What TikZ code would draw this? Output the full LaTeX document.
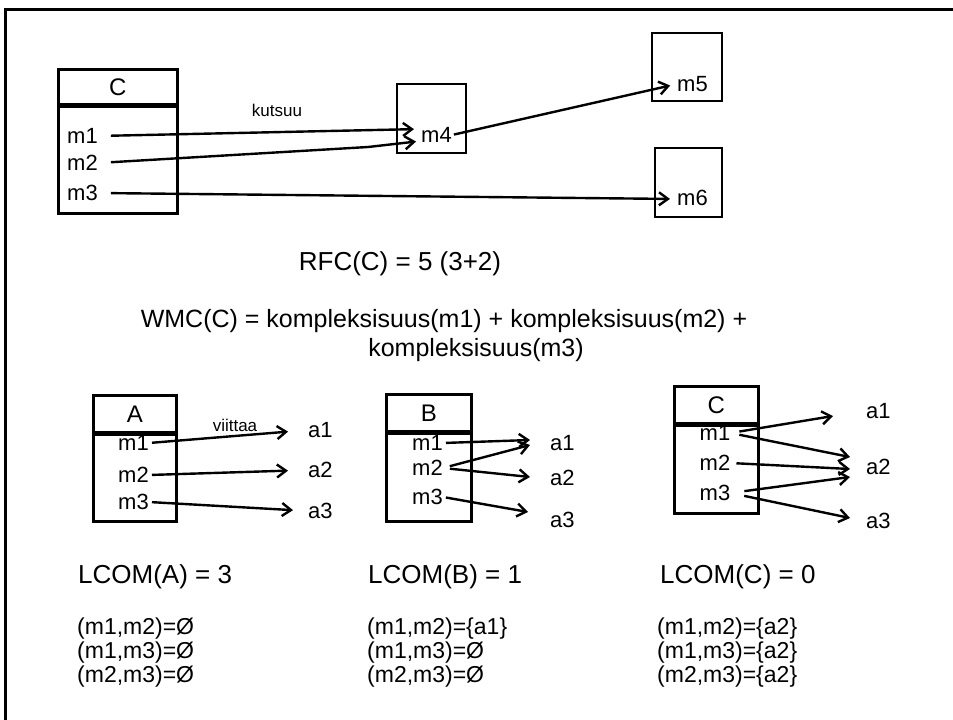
\documentclass[tikz,border=0pt]{standalone}
\usepackage{fontspec}
\setmainfont{Liberation Sans}
\usetikzlibrary{arrows.meta}

\begin{document}
\begin{tikzpicture}[x=1pt,y=-1pt,
  classbox/.style={draw,line width=2.6pt,inner sep=0pt,anchor=north west},
  headfont/.style={font=\fontsize{24}{24}\selectfont},
  sep/.style={line width=4.2pt},
  meth/.style={font=\fontsize{22}{22}\selectfont,inner sep=0pt},
  small/.style={font=\fontsize{17}{17}\selectfont},
  big/.style={font=\fontsize{26}{30}\selectfont},
  sets/.style={font=\fontsize{23}{24}\selectfont,align=left,anchor=west,inner sep=0pt},
  calls/.style={line width=2.4pt,-{Straight Barb[length=9pt,width=13pt]}}]
\useasboundingbox (0,0) rectangle (953,720);
\draw[line width=3pt] (5,720) -- (5,9) -- (953,9);

% class C and the methods it calls
\node[classbox,minimum width=119pt,minimum height=109pt] (kBody) at (57,103) {};
\node[classbox,minimum width=119pt,minimum height=35pt,headfont] (kHead) at (57,68) {C};
\draw[sep] (kHead.south west) -- (kHead.south east);
\node[meth,anchor=west] (k1) at (67,136) {m1};
\node[meth,anchor=west] (k2) at (67,163) {m2};
\node[meth,anchor=west] (k3) at (67,193) {m3};
\node[draw,line width=2.6pt,minimum width=69pt,minimum height=69pt] (m4box) at (431.5,118.5) {};
\node[draw,line width=2.6pt,minimum width=70pt,minimum height=68pt] (m5box) at (687,67) {};
\node[draw,line width=2.6pt,minimum width=67pt,minimum height=69pt] (m6box) at (688.5,182.5) {};
\node[meth,anchor=west] (m4) at (421,135) {m4};
\node[meth,anchor=west] (m5) at (677,84) {m5};
\node[meth,anchor=west] (m6) at (677,198) {m6};
\node[small] (kutsuu) at (277,110) {kutsuu};
\draw[calls,shorten <=13pt,shorten >=7pt] (k1.east) -- ([yshift=6pt]m4.west);
\draw[calls,shorten <=13pt,shorten >=5pt] (k2.east) -- (368,147) -- ([yshift=-6pt]m4.west);
\draw[calls,shorten <=13pt,shorten >=7pt] (k3.east) -- ([yshift=-1pt]m6.west);
\draw[calls,shorten <=2pt,shorten >=7pt] (m4.east) -- (m5.west);

\node[big] (rfc) at (400,264) {RFC(C) = 5 (3+2)};
\node[font=\fontsize{25}{30}\selectfont] (wmc1) at (444,321) {WMC(C) = kompleksisuus(m1) + kompleksisuus(m2) +};
\node[font=\fontsize{25}{30}\selectfont] (wmc2) at (476,350) {kompleksisuus(m3)};

% class A
\node[classbox,minimum width=83pt,minimum height=89pt] (aBody) at (92,431) {};
\node[classbox,minimum width=83pt,minimum height=37pt,headfont] (aHead) at (92,394) {A};
\draw[sep] (aHead.south west) -- (aHead.south east);
\node[meth] (am1) at (133.5,443) {m1};
\node[meth] (am2) at (133.5,475) {m2};
\node[meth] (am3) at (133.5,502) {m3};
\node[meth,anchor=west] (aa1) at (308,430) {a1};
\node[meth,anchor=west] (aa2) at (308,470) {a2};
\node[meth,anchor=west] (aa3) at (308,511) {a3};
\node[small] (viittaa) at (235,425) {viittaa};
\draw[calls,shorten <=3pt,shorten >=20pt] (am1.east) -- (aa1.west);
\draw[calls,shorten <=3pt,shorten >=20pt] (am2.east) -- (aa2.west);
\draw[calls,shorten <=3pt,shorten >=15pt] (am3.east) -- (aa3.west);

% class B
\node[classbox,minimum width=85pt,minimum height=90pt] (bBody) at (385,430) {};
\node[classbox,minimum width=85pt,minimum height=37pt,headfont] (bHead) at (385,393) {B};
\draw[sep] (bHead.south west) -- (bHead.south east);
\node[meth] (bm1) at (427.5,443) {m1};
\node[meth] (bm2) at (427.5,468) {m2};
\node[meth] (bm3) at (427.5,497) {m3};
\node[meth,anchor=west] (ba1) at (550,443) {a1};
\node[meth,anchor=west] (ba2) at (550,478) {a2};
\node[meth,anchor=west] (ba3) at (550,520) {a3};
\draw[calls,shorten <=3pt] (bm1.east) -- ([xshift=-20pt,yshift=3pt]ba1.west);
\draw[calls,shorten <=7pt] (bm2.east) -- ([xshift=-20pt,yshift=-2pt]ba1.west);
\draw[calls,shorten <=7pt] (bm2.east) -- ([xshift=-20pt,yshift=1pt]ba2.west);
\draw[calls,shorten <=3pt] (bm3.east) -- ([xshift=-22pt,yshift=8pt]ba3.west);

% class C, attributes
\node[classbox,minimum width=84pt,minimum height=90pt] (cBody) at (673,422) {};
\node[classbox,minimum width=84pt,minimum height=37pt,headfont] (cHead) at (673,385) {C};
\draw[sep] (cHead.south west) -- (cHead.south east);
\node[meth] (cm1) at (715,433) {m1};
\node[meth] (cm2) at (715,463) {m2};
\node[meth] (cm3) at (715,493) {m3};
\node[meth,anchor=west] (ca1) at (866,411) {a1};
\node[meth,anchor=west] (ca2) at (866,467) {a2};
\node[meth,anchor=west] (ca3) at (866,521) {a3};
\draw[calls,shorten <=9pt] (cm1.east) -- ([xshift=-33pt,yshift=-5pt]ca1.west);
\draw[calls,shorten <=9pt] (cm1.east) -- ([xshift=-16pt,yshift=10pt]ca2.west);
\draw[calls,shorten <=6pt] (cm2.east) -- ([xshift=-16pt,yshift=-2pt]ca2.west);
\draw[calls,shorten <=14pt] (cm3.east) -- ([xshift=-16pt,yshift=-10pt]ca2.west);
\draw[calls,shorten <=14pt] (cm3.east) -- ([xshift=-16pt,yshift=3pt]ca3.west);

% cohesion
\node[big,anchor=west,inner sep=0pt] (lcomA) at (78,577) {LCOM(A) = 3};
\node[big,anchor=west,inner sep=0pt] (lcomB) at (368,577) {LCOM(B) = 1};
\node[big,anchor=west,inner sep=0pt] (lcomC) at (660,577) {LCOM(C) = 0};
\node[sets] (setsA) at (77,653) {(m1,m2)=Ø\\(m1,m3)=Ø\\(m2,m3)=Ø};
\node[sets] (setsB) at (367,653) {(m1,m2)=\{a1\}\\(m1,m3)=Ø\\(m2,m3)=Ø};
\node[sets] (setsC) at (657,653) {(m1,m2)=\{a2\}\\(m1,m3)=\{a2\}\\(m2,m3)=\{a2\}};
\end{tikzpicture}
\end{document}
